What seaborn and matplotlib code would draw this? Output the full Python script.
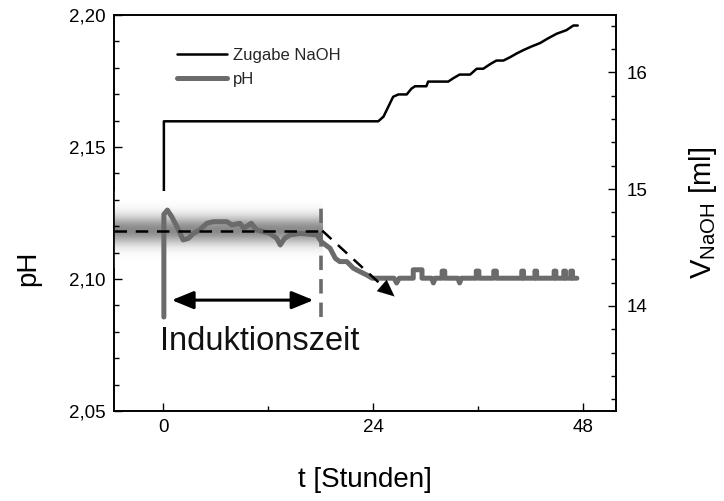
import numpy as np
import pandas as pd
import matplotlib
matplotlib.use("Agg")
import matplotlib.pyplot as plt
from matplotlib.ticker import FuncFormatter, MultipleLocator
from matplotlib.lines import Line2D
import seaborn as sns

# pH trace (time in hours, pH)
ph_t = [0.1, 0.1, 0.5, 1.0, 1.6, 2.3, 2.9, 3.5, 4.2, 5.0, 5.75, 7.3, 7.85, 8.8, 9.2,
        10.1, 10.7, 11.5, 12.2, 13.0, 13.4, 13.9, 14.5, 15.7, 17.6, 18.1, 19.1,
        19.7, 20.2, 21.0, 21.75, 22.5, 23.3, 23.9, 26.4, 26.7, 27.0, 28.6, 28.6,
        29.6, 29.6, 30.7, 30.9, 31.1, 31.9, 31.9, 32.2, 32.2, 33.7, 33.9, 34.1,
        35.8, 35.8, 36.1, 36.1, 37.8, 37.8, 38.1, 38.1, 41.0, 41.0, 41.2, 41.2,
        42.5, 42.5, 42.7, 42.7, 44.7, 44.7, 44.9, 44.9, 45.8, 45.8, 46.0, 46.0,
        46.6, 46.6, 46.8, 46.8, 47.3]
ph_val = [2.0856, 2.1245, 2.1261, 2.1236, 2.1198, 2.1148, 2.1154, 2.1173, 2.1186, 2.1211,
          2.1217, 2.1217, 2.1205, 2.1211, 2.1192, 2.1211, 2.1186, 2.1179, 2.1173,
          2.1154, 2.1129, 2.1154, 2.1167, 2.1173, 2.1167, 2.1141, 2.1116, 2.1078,
          2.1066, 2.1066, 2.1041, 2.1028, 2.1015, 2.1003, 2.1003, 2.0985, 2.1003,
          2.1003, 2.1035, 2.1035, 2.1003, 2.1003, 2.0985, 2.1003, 2.1003, 2.1030,
          2.1030, 2.1003, 2.1003, 2.0985, 2.1003, 2.1003, 2.1030, 2.1030, 2.1003,
          2.1003, 2.1030, 2.1030, 2.1003, 2.1003, 2.1030, 2.1030, 2.1003, 2.1003,
          2.1030, 2.1030, 2.1003, 2.1003, 2.1030, 2.1030, 2.1003, 2.1003, 2.1030,
          2.1030, 2.1003, 2.1003, 2.1030, 2.1030, 2.1003, 2.1003]

# Added NaOH volume (time in hours, ml)
naoh_t = [0.1, 0.1, 24.6, 25.2, 26.3, 26.9, 27.85, 28.4, 28.8, 30.1, 30.3, 32.6,
          33.2, 33.9, 35.1, 35.85, 36.6, 37.4, 38.1, 38.9, 39.7, 40.4, 41.2, 42.1,
          43.1, 44.0, 45.0, 46.1, 46.9, 47.4]
naoh_val = [13.9, 15.58, 15.58, 15.62, 15.79, 15.81, 15.81, 15.86, 15.88, 15.88,
            15.92, 15.92, 15.95, 15.98, 15.98, 16.03, 16.03, 16.07, 16.10, 16.10,
            16.13, 16.16, 16.19, 16.22, 16.25, 16.29, 16.33, 16.36, 16.40, 16.40]

# Induction period markers
ph_plateau = 2.1183
t_induction_end = 18.2
ph_arrow_tip = (26.7, 2.0927)
span_arrow = (1.0, 17.2, 2.0920)

sns.set_theme(style="white")
plt.rcParams["font.family"] = ["Liberation Sans", "DejaVu Sans"]
plt.rcParams["mathtext.fontset"] = "custom"
plt.rcParams["mathtext.rm"] = "Liberation Sans"
plt.rcParams["mathtext.it"] = "Liberation Sans"

fig = plt.figure(figsize=(7.24, 5.01), dpi=100)
ax = fig.add_axes([114 / 724, 90 / 501, (616 - 114) / 724, (411 - 15) / 501])
ax2 = ax.twinx()

xlim = (-5.6, 51.77)
ax.set_xlim(*xlim)
ax.set_ylim(2.05, 2.20)
ax2.set_ylim(13.10, 16.49)

# Shaded band around the plateau (vertical gradient)
yy = np.linspace(2.104, 2.133, 200)
prof = 1 - 0.46 * np.exp(-((yy - ph_plateau) / 0.0052) ** 2)
img = np.tile(prof[:, None], (1, 2))
ax.imshow(img, cmap="gray", vmin=0, vmax=1, aspect="auto", origin="lower",
          extent=(xlim[0], t_induction_end, yy[0], yy[-1]), zorder=0,
          interpolation="bilinear")

naoh_df = pd.DataFrame({"t": naoh_t, "V": naoh_val})
ph_df = pd.DataFrame({"t": ph_t, "pH": ph_val})

sns.lineplot(data=naoh_df, x="t", y="V", ax=ax2, color="black", lw=1.8,
             estimator=None, sort=False, legend=False)
ax2.set_zorder(1)
ax.set_zorder(2)
ax.patch.set_visible(False)

sns.lineplot(data=ph_df, x="t", y="pH", ax=ax, color="#6b6b6b", lw=3.6,
             estimator=None, sort=False, legend=False, zorder=3)

# Plateau dashed line and dashed downward trend arrow
ax.plot([xlim[0], t_induction_end], [ph_plateau, ph_plateau], color="black",
        lw=1.8, ls=(0, (5, 3.5)), zorder=4)
ax.plot([t_induction_end, ph_arrow_tip[0] - 0.8],
        [ph_plateau, ph_arrow_tip[1] + 0.0022], color="black", lw=1.8,
        ls=(0, (5, 3.5)), zorder=4)
ax.annotate("", xy=ph_arrow_tip, xytext=(ph_arrow_tip[0] - 1.4, ph_arrow_tip[1] + 0.0040),
            arrowprops=dict(arrowstyle="-|>,head_length=1.0,head_width=0.45",
                            color="black", lw=0.1), zorder=5)

# Vertical end-of-induction marker
ax.plot([18.1, 18.1], [2.0856, 2.127], color="#6b6b6b", lw=2.6,
        ls=(0, (4, 2.5)), zorder=3)

# Double arrow for the induction period
ax.annotate("", xy=(span_arrow[0], span_arrow[2]), xytext=(span_arrow[1], span_arrow[2]),
            arrowprops=dict(arrowstyle="<|-|>,head_length=1.1,head_width=0.45",
                            color="black", lw=2.2, shrinkA=0, shrinkB=0), zorder=5)
ax.text(11.1, 2.0762, "Induktionszeit", fontsize=23.5, ha="center", va="center",
        color="#111111", zorder=5)

# Axes styling
for a in (ax, ax2):
    for s in a.spines.values():
        s.set_color("black")
        s.set_linewidth(1.2)
ax.xaxis.set_major_locator(MultipleLocator(24))
ax.xaxis.set_minor_locator(MultipleLocator(12))
ax.yaxis.set_major_locator(MultipleLocator(0.05))
ax.yaxis.set_minor_locator(MultipleLocator(0.01))
ax2.yaxis.set_major_locator(MultipleLocator(1))
ax2.yaxis.set_minor_locator(MultipleLocator(0.2))
ax.yaxis.set_major_formatter(FuncFormatter(lambda v, p: f"{v:.2f}".replace(".", ",")))
ax.xaxis.set_major_formatter(FuncFormatter(lambda v, p: f"{v:.0f}"))
ax2.yaxis.set_major_formatter(FuncFormatter(lambda v, p: f"{v:.0f}"))

ax.tick_params(axis="both", which="both", direction="in", top=False, right=False,
               labelsize=13.5, colors="black", pad=6)
ax.tick_params(axis="both", which="major", length=6, width=1.0)
ax.tick_params(axis="both", which="minor", length=3.5, width=1.0)
ax.tick_params(axis="y", which="both", left=True)
ax.tick_params(axis="x", which="both", bottom=True)
ax2.tick_params(axis="y", which="both", direction="in", right=True, labelsize=13.5,
                colors="black", pad=8)
ax2.tick_params(axis="y", which="major", length=6, width=1.0)
ax2.tick_params(axis="y", which="minor", length=3.5, width=1.0)
ax.grid(False)
ax2.grid(False)

ax.set_xlabel("t [Stunden]", fontsize=20, labelpad=22, color="black")
ax.set_ylabel("pH", fontsize=20, color="black")
ax.yaxis.set_label_coords(-0.145, 0.36)
ax2.set_ylabel(r"$\mathrm{V}_{\mathrm{NaOH}}$ [ml]", fontsize=21, labelpad=28,
               color="black")

# Legend
handles = [Line2D([], [], color="black", lw=1.8),
           Line2D([], [], color="#6b6b6b", lw=3.6)]
ax.legend(handles, ["Zugabe NaOH", "pH"], loc="upper left",
          bbox_to_anchor=(0.095, 0.955), frameon=False, fontsize=12,
          handlelength=3.0, handletextpad=0.4, labelspacing=0.55)

fig.savefig("out.png", dpi=100)
